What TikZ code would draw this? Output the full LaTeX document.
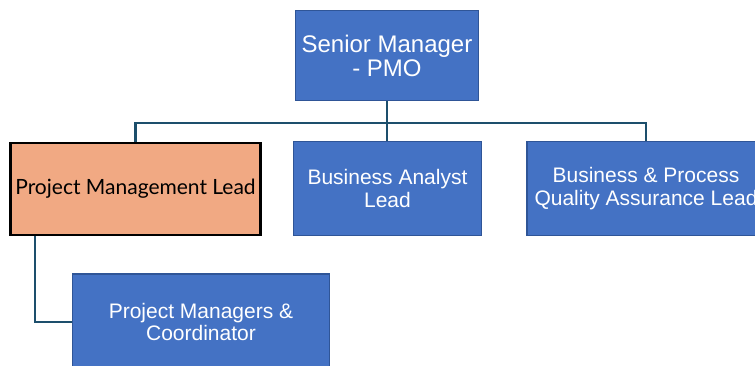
\documentclass[tikz,border=0pt]{standalone}
\usepackage{fontspec}
\setmainfont{Liberation Sans}
\newfontfamily\aptosfont{Lato}
\usetikzlibrary{backgrounds}
\definecolor{boxblue}{HTML}{4472C4}
\definecolor{boxedge}{HTML}{2F5597}
\definecolor{leadfill}{HTML}{F1A983}
\definecolor{linkcol}{HTML}{1D4F6C}
\begin{document}
\begin{tikzpicture}[x=1pt,y=-1pt,
  bluebox/.style={draw=boxedge, line width=1.5pt, fill=boxblue, text=white,
    inner sep=0pt, align=center, font=\fontsize{21}{22.5}\selectfont},
  leadbox/.style={draw=black, line width=2.2pt, fill=leadfill, text=black,
    inner sep=0pt, align=center, font=\aptosfont\fontsize{21}{22}\selectfont},
  link/.style={draw=linkcol, line width=2.6pt, line join=miter}]
\useasboundingbox (0,0) rectangle (755,365);
\clip (0,0) rectangle (755,365);
\node[bluebox, minimum width=183pt, minimum height=90pt,
  font=\fontsize{24}{24}\selectfont] (sm) at (387,55.5) {Senior Manager\\- PMO};
\node[leadbox, minimum width=250pt, minimum height=92pt] (pml) at (135.5,189) {Project Management Lead};
\node[bluebox, minimum width=188pt, minimum height=94pt] (bal) at (387.5,188.5) {Business Analyst\\Lead};
\node[bluebox, minimum width=238pt, minimum height=94pt] (bqa) at (646,188.5) {Business \& Process\\Quality Assurance Lead};
\node[bluebox, minimum width=257pt, minimum height=96pt] (pmc) at (201,322) {Project Managers \&\\Coordinator};
\coordinate (elb) at (35,0);
\begin{scope}[on background layer]
\draw[link] (sm.south) -- (sm.south |- bal.north);
\draw[link] (pml.north) -- ++(0,-19) -| (bqa.north);
\draw[link] (pml.south -| elb) |- (pmc.west);
\end{scope}
\end{tikzpicture}
\end{document}
